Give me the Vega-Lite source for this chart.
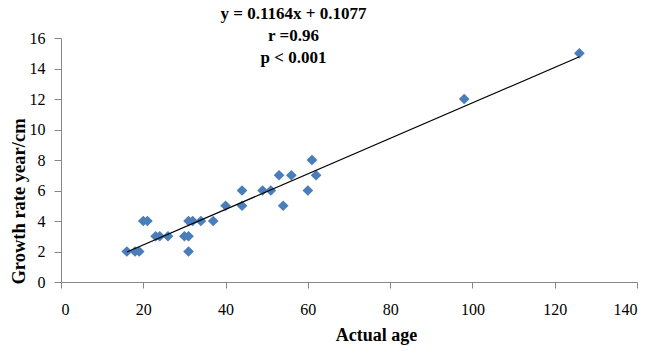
{
  "$schema": "https://vega.github.io/schema/vega-lite/v6.json",
  "width": 576,
  "height": 244,
  "autosize": {"type": "none"},
  "padding": {"left": 61, "top": 38, "right": 12, "bottom": 69},
  "background": "white",
  "config": {
    "view": {"stroke": null},
    "font": "Liberation Serif"
  },
  "datasets": {
    "points": [
      {"age": 16, "rate": 2}, {"age": 18, "rate": 2}, {"age": 19, "rate": 2},
      {"age": 20, "rate": 4}, {"age": 21, "rate": 4}, {"age": 23, "rate": 3},
      {"age": 24, "rate": 3}, {"age": 26, "rate": 3}, {"age": 30, "rate": 3},
      {"age": 31, "rate": 3}, {"age": 31, "rate": 2}, {"age": 31, "rate": 4},
      {"age": 32, "rate": 4}, {"age": 34, "rate": 4}, {"age": 37, "rate": 4},
      {"age": 40, "rate": 5}, {"age": 44, "rate": 5}, {"age": 44, "rate": 6},
      {"age": 49, "rate": 6}, {"age": 51, "rate": 6}, {"age": 53, "rate": 7},
      {"age": 54, "rate": 5}, {"age": 56, "rate": 7}, {"age": 60, "rate": 6},
      {"age": 61, "rate": 8}, {"age": 62, "rate": 7}, {"age": 98, "rate": 12},
      {"age": 126, "rate": 15}
    ],
    "trend": [
      {"age": 16, "rate": 1.97},
      {"age": 126, "rate": 14.77}
    ],
    "notes": [
      {"age": 56.5, "rate": 17.57, "label": "y = 0.1164x + 0.1077"},
      {"age": 56.5, "rate": 16.13, "label": "r =0.96"},
      {"age": 56.5, "rate": 14.69, "label": "p < 0.001"}
    ]
  },
  "encoding": {
    "x": {
      "field": "age", "type": "quantitative",
      "scale": {"domain": [0, 140], "nice": false},
      "axis": {
        "title": "Actual age", "values": [0, 20, 40, 60, 80, 100, 120, 140],
        "labelOverlap": false,
        "grid": false, "domainColor": "#868686", "tickColor": "#868686", "tickSize": 6,
        "labelFont": "Liberation Serif", "labelFontSize": 16, "labelColor": "#000000", "labelPadding": 13,
        "titleFont": "Liberation Serif", "titleFontSize": 18, "titleFontWeight": "bold", "titleColor": "#000000",
        "titleX": 315, "titleY": 44, "titleBaseline": "top", "titleAlign": "center"
      }
    },
    "y": {
      "field": "rate", "type": "quantitative",
      "scale": {"domain": [0, 16], "nice": false},
      "axis": {
        "title": "Growth rate year/cm", "values": [0, 2, 4, 6, 8, 10, 12, 14, 16],
        "tickCount": 9,
        "labelOverlap": false,
        "grid": false, "domainColor": "#868686", "tickColor": "#868686", "tickSize": 7,
        "labelFont": "Liberation Serif", "labelFontSize": 16, "labelColor": "#000000", "labelPadding": 9,
        "titleFont": "Liberation Serif", "titleFontSize": 18.5, "titleFontWeight": "bold", "titleColor": "#000000",
        "titleX": -43, "titleY": 163, "titleBaseline": "middle", "titleAlign": "center", "titleAngle": -90
      }
    }
  },
  "layer": [
    {
      "data": {"name": "points"},
      "mark": {"type": "point", "shape": "diamond", "filled": true, "size": 115, "color": "#4a7ebb", "opacity": 1}
    },
    {
      "data": {"name": "trend"},
      "mark": {"type": "line", "color": "#000000", "strokeWidth": 1.2}
    },
    {
      "data": {"name": "notes"},
      "mark": {"type": "text", "font": "Liberation Serif", "fontSize": 17, "fontWeight": "bold", "color": "#000000", "align": "center", "baseline": "middle"},
      "encoding": {
        "text": {"field": "label"}
      }
    }
  ]
}
